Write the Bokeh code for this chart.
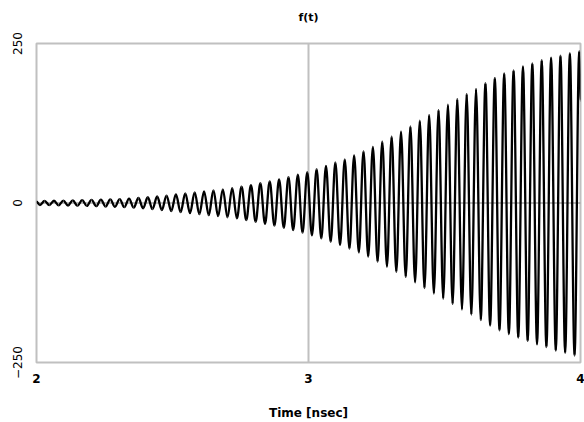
import numpy as np
from bokeh.plotting import figure
from bokeh.models import FixedTicker, Span, Label, Range1d, ColumnDataSource
from bokeh.embed import file_html
from bokeh.resources import INLINE

# ---- data ----
x_ticks = [2, 3, 4]
y_ticks = [-250, 0, 250]
y_tick_labels = {250: "250", 0: "0", -250: "\u2212250"}

half_period_ns = 0.017241       # half of one oscillation cycle (about 29 GHz)
first_trough_t = 2.0126         # time of first minimum
start_point = (2.0, 2.0)
end_point = (4.0, 160.0)

trough_values = [-3.1, -3.3, -3.6, -3.9, -4.3, -4.6, -5.0, -5.5, -6.0, -6.6,
                 -7.4, -8.3, -9.6, -11.0, -12.6, -14.2, -15.8, -17.4, -19.0, -20.7,
                 -22.4, -24.1, -26.8, -29.5, -32.5, -35.5, -38.8, -42.5, -46.5, -50.7,
                 -55.5, -61, -66, -71.5, -77.5, -84, -92, -100, -108, -116,
                 -124.5, -133.5, -142, -150, -158.5, -167, -175, -183.5, -192, -199.5,
                 -205.5, -211, -216.5, -221.5, -226, -231.5, -235, -239]
peak_values = [3.2, 3.5, 3.8, 4.1, 4.4, 4.8, 5.3, 5.7, 6.2, 7.0,
               7.8, 9.0, 10.3, 11.7, 13.4, 15.0, 16.6, 18.2, 19.8, 21.5,
               23.3, 25.5, 28.0, 31.0, 34.0, 37.0, 40.5, 44.5, 48.5, 53,
               58, 63.5, 68.5, 74.5, 81, 88, 96, 104, 112, 120,
               129, 138, 146, 154, 163, 171, 179, 188, 196, 203,
               208, 214, 219, 224, 228, 231, 235, 238]

# interleave minima and maxima
ext_vals = []
for tr, pk in zip(trough_values, peak_values):
    ext_vals.extend([tr, pk])
ext_t = first_trough_t + np.arange(len(ext_vals)) * half_period_ns
t = np.array([start_point[0]] + list(ext_t) + [end_point[0]])
f = np.array([start_point[1]] + ext_vals + [end_point[1]])

# smooth (sine-like) segments between successive extrema, flat tangents at extrema
k = 0.36
dx = np.diff(t)
seg = ColumnDataSource(dict(
    x0=t[:-1], y0=f[:-1], x1=t[1:], y1=f[1:],
    cx0=t[:-1] + k * dx, cy0=f[:-1],
    cx1=t[1:] - k * dx, cy1=f[1:],
))

FONT = "DejaVu Sans"
W, H = 584, 422
BL, BR, BT, BB = 36, 4, 43, 55

p = figure(width=W, height=H, output_backend="svg", toolbar_location=None,
           x_range=Range1d(2, 4), y_range=Range1d(-250, 250),
           min_border_left=BL, min_border_right=BR, min_border_top=BT,
           min_border_bottom=BB, background_fill_color="white",
           border_fill_color="white")

# chart title in the panel above the frame (screen units relative to that panel)
frame_w = W - BL - BR
p.add_layout(Label(x=frame_w / 2, y=26, x_units="screen", y_units="screen",
                   text="f(t)", text_align="center", text_baseline="middle",
                   text_font=FONT, text_font_size="11px", text_font_style="bold",
                   text_color="#000000"), "above")

p.outline_line_color = "#c0c0c0"
p.outline_line_width = 2

# axes
for ax in (p.xaxis, p.yaxis):
    ax.axis_line_color = None
    ax.major_tick_line_color = None
    ax.minor_tick_line_color = None
    ax.major_tick_in = 0
    ax.major_tick_out = 0
    ax.major_label_text_font = FONT
    ax.major_label_text_font_size = "12px"
    ax.major_label_text_color = "#000000"

p.xaxis.ticker = FixedTicker(ticks=x_ticks)
p.xaxis.major_label_text_font_style = "bold"
p.xaxis.major_label_standoff = 11
p.xaxis.axis_label = "Time [nsec]"
p.xaxis.axis_label_text_font = FONT
p.xaxis.axis_label_text_font_size = "12px"
p.xaxis.axis_label_text_font_style = "bold"
p.xaxis.axis_label_text_color = "#000000"
p.xaxis.axis_label_standoff = 20

p.yaxis.ticker = FixedTicker(ticks=y_ticks)
p.yaxis.major_label_overrides = y_tick_labels
p.yaxis.major_label_orientation = "vertical"
p.yaxis.major_label_standoff = 15

# grid: only vertical line at 3, zero line horizontal
p.xgrid.ticker = FixedTicker(ticks=[3])
p.xgrid.grid_line_color = "#c0c0c0"
p.xgrid.grid_line_width = 2
p.ygrid.visible = False
p.add_layout(Span(location=0, dimension="width", line_color="#808080",
                  line_width=1, level="underlay"))

p.bezier(x0="x0", y0="y0", x1="x1", y1="y1", cx0="cx0", cy0="cy0",
         cx1="cx1", cy1="cy1", source=seg, line_color="#000000", line_width=2.3)

open("out.html", "w").write(file_html(p, INLINE))
